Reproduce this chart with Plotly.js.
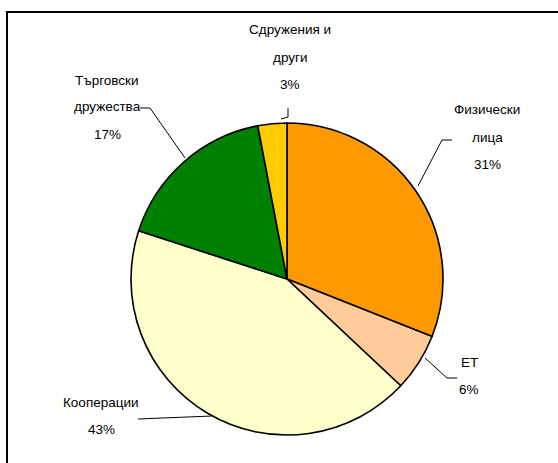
<!DOCTYPE html>
<html>
<head>
<meta charset="utf-8">
<script src="https://cdn.plot.ly/plotly-3.0.1.min.js"></script>
<style>html,body{margin:0;padding:0;background:#fff;}#chart{width:558px;height:463px;}</style>
</head>
<body>
<div id="chart"></div>
<script>
// Data
const categories = ["Физически лица", "ЕТ", "Кооперации", "Търговски дружества", "Сдружения и други"];
const shares = [31, 6, 43, 17, 3];
const labelLines = [["Физически", "лица", "31%"], ["ЕТ", "6%"], ["Кооперации", "43%"], ["Търговски", "дружества", "17%"], ["Сдружения и", "други", "3%"]];
const colors = ["#FF9900", "#FFCC99", "#FFFFCC", "#008000", "#FFCC00"];

// layout geometry (pixels)
const W = 558, H = 463;
const mL = 131, mR = 115, mT = 123, mB = 28;
const pw = W - mL - mR, ph = H - mT - mB;
const X = px => (px - mL) / pw;
const Y = py => (H - mB - py) / ph;

// label placements (pixel centers of first line, line spacing)
const labelPos = [
  {x: 487, y: 110},
  {x: 469, y: 362},
  {x: 101, y: 402},
  {x: 107, y: 80},
  {x: 290, y: 30}
];
const lineGap = 27;

const font = {family: "'Liberation Sans', Arial, sans-serif", size: 13.5, color: "#000"};

const annotations = [];
labelLines.forEach((lines, i) => {
  lines.forEach((t, j) => {
    annotations.push({
      xref: "paper", yref: "paper",
      x: X(labelPos[i].x), y: Y(labelPos[i].y + j * lineGap),
      xanchor: "center", yanchor: "middle",
      text: t, showarrow: false, font: font
    });
  });
});

// leader lines (pixel polylines)
const leaders = [
  [[452, 140], [442, 140], [418, 186]],
  [[425, 358], [447, 378], [457, 378]],
  [[138, 419], [212, 416]],
  [[140, 108], [150, 108], [185, 158]],
  [[288, 108], [288, 117], [281, 119]]
];
const shapes = leaders.map(pts => ({
  type: "path", xref: "paper", yref: "paper",
  path: pts.map((p, k) => (k ? "L" : "M") + X(p[0]) + "," + Y(p[1])).join(" "),
  line: {color: "#000", width: 1}
}));
// frame
shapes.push({
  type: "rect", xref: "paper", yref: "paper",
  x0: X(7), x1: X(620), y0: Y(520), y1: Y(12),
  line: {color: "#000", width: 2}
});

const trace = {
  type: "pie",
  labels: categories,
  values: shares,
  sort: false,
  direction: "clockwise",
  rotation: 0,
  textinfo: "none",
  hoverinfo: "label+percent",
  marker: {colors: colors, line: {color: "#000", width: 1.6}},
  showlegend: false
};

const layout = {
  width: W, height: H,
  margin: {l: mL, r: mR, t: mT, b: mB, pad: 0},
  paper_bgcolor: "#fff",
  plot_bgcolor: "#fff",
  showlegend: false,
  annotations: annotations,
  shapes: shapes
};

Plotly.newPlot("chart", [trace], layout, {displayModeBar: false, staticPlot: true});
</script>
</body>
</html>
